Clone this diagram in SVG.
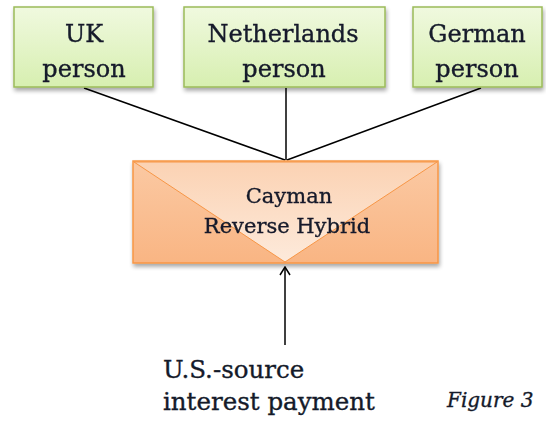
<svg xmlns="http://www.w3.org/2000/svg" width="546" height="421" viewBox="0 0 546 421">
<defs>
<linearGradient id="gg" x1="0" y1="0" x2="0" y2="1"><stop offset="0" stop-color="#f0f9df"/><stop offset="1" stop-color="#d7efb0"/></linearGradient>
<linearGradient id="og" x1="0" y1="0" x2="0" y2="1"><stop offset="0" stop-color="#fbc9a3"/><stop offset="1" stop-color="#f9b583"/></linearGradient>
<linearGradient id="og2" x1="0" y1="0" x2="0" y2="1"><stop offset="0" stop-color="#fbd2b3"/><stop offset="1" stop-color="#fdeadb"/></linearGradient>
<filter id="sh" x="-10%" y="-10%" width="125%" height="130%"><feGaussianBlur in="SourceAlpha" stdDeviation="2"/><feOffset dx="1" dy="3"/><feComponentTransfer><feFuncA type="linear" slope="0.35"/></feComponentTransfer><feMerge><feMergeNode/><feMergeNode in="SourceGraphic"/></feMerge></filter>
<marker id="ah" viewBox="0 0 12 12" refX="11" refY="6" markerWidth="12" markerHeight="12" markerUnits="userSpaceOnUse" orient="auto"><path d="M3,1 L11,6 L3,11" fill="none" stroke="#000" stroke-width="1.5"/></marker>
</defs>
<style>
.g{fill:url(#gg);stroke:#9bbb59;stroke-width:1.5}
.t{font-family:"DejaVu Serif","Liberation Serif",serif;font-size:24px;fill:#141a2a;stroke:#141a2a;stroke-width:0.35;text-anchor:middle}
.s{font-size:21px}
.b{font-family:"DejaVu Serif","Liberation Serif",serif;font-size:24.5px;fill:#141a2a;stroke:#141a2a;stroke-width:0.35}
.c{stroke:#000;stroke-width:1.5;fill:none}
</style>
<g id="connectors">
<line class="c" x1="84" y1="88" x2="285" y2="160"/>
<line class="c" x1="286" y1="88" x2="286" y2="160"/>
<line class="c" x1="481" y1="88" x2="287" y2="160"/>
<line class="c" x1="285" y1="345" x2="285" y2="267" marker-end="url(#ah)"/>
</g>
<g id="uk" filter="url(#sh)">
<rect class="g" x="14" y="7" width="139" height="80"/>
<text class="t" x="84" y="42">UK</text>
<text class="t" x="84" y="77">person</text>
</g>
<g id="nl" filter="url(#sh)">
<rect class="g" x="184" y="7" width="201" height="80"/>
<text class="t" x="283" y="42">Netherlands</text>
<text class="t" x="284" y="77">person</text>
</g>
<g id="de" filter="url(#sh)">
<rect class="g" x="413" y="7" width="129" height="80"/>
<text class="t" x="477" y="42">German</text>
<text class="t" x="477" y="77">person</text>
</g>
<g id="cayman" filter="url(#sh)">
<rect x="133" y="161" width="305" height="102" fill="url(#og)" stroke="#f79646" stroke-width="1.5"/>
<path d="M134,162 L285,262 L437,162 Z" fill="url(#og2)" stroke="#f79646" stroke-width="1"/>
<text class="t s" x="289" y="203">Cayman</text>
<text class="t s" x="287" y="233">Reverse Hybrid</text>
</g>
<g id="source">
<text class="b" x="163" y="378">U.S.-source</text>
<text class="b" x="163" y="410">interest payment</text>
</g>
<text x="447" y="407" style="font-family:'DejaVu Serif','Liberation Serif',serif;font-size:20px;font-style:italic;fill:#141a2a;stroke:#141a2a;stroke-width:0.35">Figure 3</text>
</svg>
